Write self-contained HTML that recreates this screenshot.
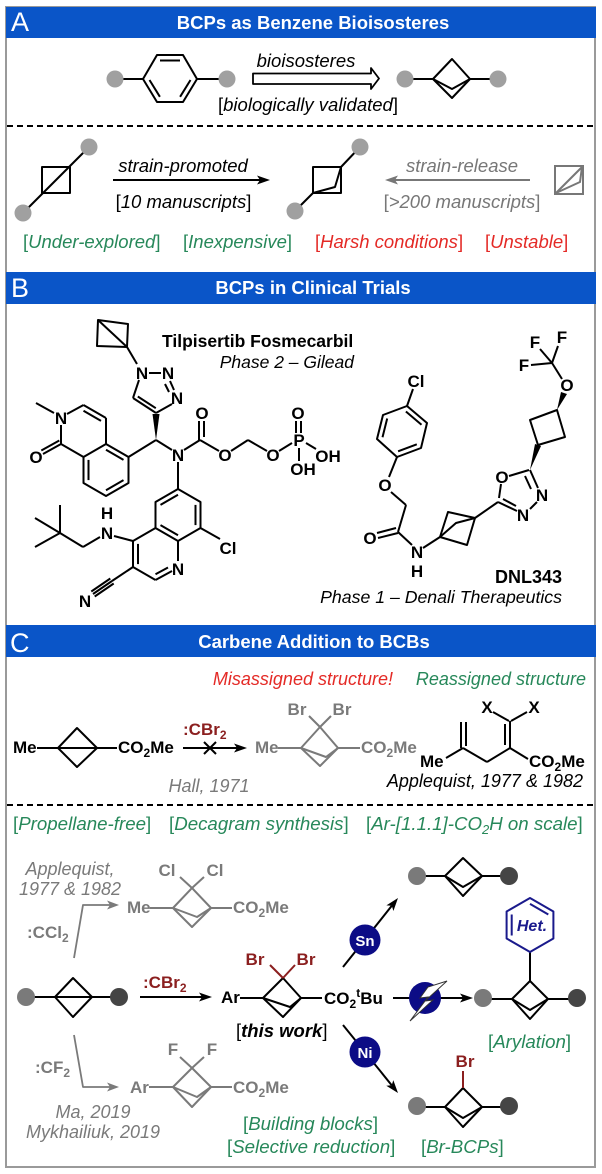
<!DOCTYPE html>
<html><head><meta charset="utf-8"><style>
html,body{margin:0;padding:0;background:#fff;width:602px;height:1174px;overflow:hidden}
svg{display:block}
text{font-family:"Liberation Sans",Arial,sans-serif}
</style></head><body>
<svg width="602" height="1174" viewBox="0 0 602 1174" xmlns="http://www.w3.org/2000/svg">
<rect x="0" y="0" width="602" height="1174" fill="#fff"/>
<!-- frame -->
<rect x="6" y="7" width="589" height="1160" fill="none" stroke="#9a9a9a" stroke-width="2"/>
<!-- headers -->
<rect x="6" y="7" width="590" height="31" fill="#0a55c8"/>
<text x="11" y="31" font-size="27" fill="#fff">A</text>
<text x="313" y="29" font-size="18.5" font-weight="bold" fill="#fff" text-anchor="middle">BCPs as Benzene Bioisosteres</text>
<rect x="6" y="272" width="590" height="32" fill="#0a55c8"/>
<text x="11" y="297" font-size="27" fill="#fff">B</text>
<text x="313" y="294" font-size="18.5" font-weight="bold" fill="#fff" text-anchor="middle">BCPs in Clinical Trials</text>
<rect x="6" y="625" width="590" height="32" fill="#0a55c8"/>
<text x="10" y="652" font-size="27" fill="#fff">C</text>
<text x="314" y="648" font-size="18.5" font-weight="bold" fill="#fff" text-anchor="middle">Carbene Addition to BCBs</text>
<!-- dashed -->
<line x1="7" y1="126" x2="595" y2="126" stroke="#000" stroke-width="2" stroke-dasharray="6,4"/>
<line x1="7" y1="805" x2="595" y2="805" stroke="#000" stroke-width="2" stroke-dasharray="6,4"/>

<!-- ===== Section A ===== -->
<g stroke="#000" stroke-width="2" fill="none" stroke-linejoin="round">
<line x1="115" y1="79" x2="143" y2="79"/>
<polygon points="143,79 157,55 183,55 197,79 183,102 157,102"/>
<line x1="160" y1="60.5" x2="180" y2="60.5"/>
<line x1="190.5" y1="80" x2="180.1" y2="96.8"/>
<line x1="159.9" y1="96.8" x2="149.5" y2="80"/>
<line x1="197" y1="79" x2="227" y2="79"/>
<polygon points="253,73.5 371,73.5 371,68 379,78.5 371,89 371,84 253,84" stroke-width="1.8" fill="#fff"/>
<line x1="405" y1="79" x2="433" y2="79"/>
<polygon points="433,79 452,59 470,79 452,98"/>
<polyline points="433,79 452,89 470,79"/>
<line x1="470" y1="79" x2="498" y2="79"/>
<!-- row 2 -->
<line x1="23" y1="213" x2="89" y2="147"/>
<rect x="42" y="167" width="28" height="26"/>
<line x1="113" y1="180" x2="260" y2="180"/>
<rect x="313" y="167" width="28" height="26"/>
<polyline points="313,193 335,187 341,167"/>
<line x1="341" y1="167" x2="360" y2="147"/>
<line x1="313" y1="193" x2="295" y2="211"/>
</g>
<polygon points="270,180 257,175.5 260,180 257,184.5" fill="#000"/>
<g fill="#a0a0a0">
<circle cx="115" cy="79" r="8.5"/><circle cx="227" cy="79" r="8.5"/>
<circle cx="405" cy="79" r="8.5"/><circle cx="498" cy="79" r="8.5"/>
<circle cx="89" cy="147" r="8.5"/><circle cx="23" cy="213" r="8.5"/>
<circle cx="360" cy="147" r="8.5"/><circle cx="295" cy="211" r="8.5"/>
</g>
<g stroke="#777" stroke-width="2" fill="none">
<line x1="395" y1="180" x2="530" y2="180"/>
<rect x="555" y="166" width="28" height="28"/>
<line x1="556" y1="193" x2="582" y2="167"/>
<polyline points="556,193 580,182 582,167"/>
</g>
<polygon points="385,180 398,175.5 395,180 398,184.5" fill="#777"/>
<g font-size="18.5">
<text x="306" y="67" font-style="italic" text-anchor="middle">bioisosteres</text>
<text x="308" y="111" text-anchor="middle">[<tspan font-style="italic">biologically validated</tspan>]</text>
<text x="183" y="172" font-style="italic" text-anchor="middle">strain-promoted</text>
<text x="183.5" y="208" text-anchor="middle">[<tspan font-style="italic">10 manuscripts</tspan>]</text>
<text x="462" y="172" font-style="italic" text-anchor="middle" fill="#777">strain-release</text>
<text x="462" y="208" text-anchor="middle" fill="#777">[<tspan font-style="italic">&gt;200 manuscripts</tspan>]</text>
<text x="23" y="248" fill="#27885a">[<tspan font-style="italic">Under-explored</tspan>]</text>
<text x="183" y="248" fill="#27885a">[<tspan font-style="italic">Inexpensive</tspan>]</text>
<text x="315" y="248" fill="#e42a26">[<tspan font-style="italic">Harsh conditions</tspan>]</text>
<text x="485" y="248" fill="#e42a26">[<tspan font-style="italic">Unstable</tspan>]</text>
</g>

<!-- ===== Section B: Tilpisertib ===== -->
<g stroke="#000" stroke-width="2" fill="none" stroke-linejoin="round">
<!-- BCP -->
<polygon points="97,346 98,320 128,324 127,347"/>
<line x1="98" y1="320" x2="127" y2="347"/>
<line x1="127" y1="347" x2="137" y2="364"/>
<!-- triazole -->
<line x1="149" y1="373" x2="161" y2="373"/>
<line x1="170" y1="381" x2="174" y2="390"/>
<line x1="165" y1="384" x2="169" y2="392"/>
<line x1="172" y1="404" x2="156" y2="413"/>
<line x1="156" y1="413" x2="133" y2="398"/>
<line x1="155.8" y1="408.2" x2="137.8" y2="396.5"/>
<line x1="133" y1="398" x2="139" y2="380"/>
<!-- stereo C -->
<line x1="156" y1="440" x2="128.5" y2="457"/>
<line x1="156" y1="440" x2="172" y2="450"/>
<line x1="184" y1="450" x2="200" y2="440"/>
<line x1="199" y1="440" x2="199" y2="421"/>
<line x1="204" y1="437" x2="204" y2="421"/>
<line x1="200" y1="440" x2="219" y2="451"/>
<line x1="231" y1="451" x2="248" y2="440"/>
<line x1="248" y1="440" x2="267" y2="451"/>
<line x1="279" y1="451" x2="292" y2="443"/>
<line x1="296" y1="433" x2="296" y2="421"/>
<line x1="301" y1="433" x2="301" y2="421"/>
<line x1="299" y1="448" x2="299" y2="461"/>
<line x1="306" y1="443" x2="316" y2="449"/>
<line x1="178" y1="462" x2="178" y2="489"/>
<!-- benzo -->
<polygon points="106,444 128.5,457 128.5,483 106,496 83.5,483 83.5,457"/>
<line x1="106" y1="449.7" x2="123.5" y2="459.9"/>
<line x1="123.5" y1="480.1" x2="106" y2="490.3"/>
<line x1="88.5" y1="480.1" x2="88.5" y2="459.9"/>
<!-- pyridinone -->
<line x1="83.5" y1="457" x2="61" y2="444"/>
<line x1="61" y1="444" x2="61" y2="425"/>
<line x1="67" y1="414" x2="83.5" y2="405"/>
<line x1="83.5" y1="405" x2="106" y2="418"/>
<line x1="106" y1="418" x2="106" y2="444"/>
<line x1="83.5" y1="410.7" x2="101" y2="420.9"/>
<line x1="54" y1="413" x2="36" y2="403"/>
<line x1="61" y1="444" x2="43" y2="454"/>
<line x1="59.3" y1="440.5" x2="41.3" y2="450.5"/>
<!-- quinoline -->
<polygon points="178,489 200.5,502 200.5,528 178,541 155.5,528 155.5,502"/>
<line x1="178" y1="494.7" x2="160.5" y2="504.9"/>
<line x1="195.5" y1="504.9" x2="195.5" y2="525.1"/>
<line x1="160.5" y1="525.1" x2="178" y2="535.3"/>
<line x1="178" y1="541" x2="178" y2="561"/>
<line x1="172" y1="571" x2="155.5" y2="580"/>
<line x1="155.5" y1="580" x2="133" y2="567"/>
<line x1="133" y1="567" x2="133" y2="541"/>
<line x1="133" y1="541" x2="155.5" y2="528"/>
<line x1="138" y1="543.9" x2="138" y2="564.1"/>
<line x1="155.5" y1="574.3" x2="168" y2="567.5"/>
<line x1="200.5" y1="528" x2="220" y2="539"/>
<line x1="133" y1="541" x2="114" y2="536"/>
<line x1="100" y1="537" x2="83" y2="547"/>
<line x1="83" y1="547" x2="60" y2="533"/>
<line x1="60" y1="533" x2="60" y2="505"/>
<line x1="60" y1="533" x2="35" y2="518"/>
<line x1="60" y1="533" x2="35" y2="547"/>
<line x1="133" y1="567" x2="112" y2="581"/>
<line x1="112" y1="581" x2="93" y2="594"/>
<line x1="113.7" y1="583.5" x2="94.7" y2="596.5"/>
<line x1="110.3" y1="578.5" x2="91.3" y2="591.5"/>
</g>
<polygon points="156,440 152.5,414 159.5,414" fill="#000"/>
<g font-size="17" font-weight="bold" text-anchor="middle">
<text x="142" y="379">N</text><text x="168" y="379">N</text><text x="177" y="404">N</text>
<text x="61" y="424">N</text><text x="36" y="463">O</text>
<text x="178" y="461">N</text><text x="202" y="419">O</text><text x="225" y="461">O</text>
<text x="273" y="461">O</text><text x="299" y="446">P</text><text x="298" y="419">O</text>
<text x="303" y="475">OH</text><text x="328" y="462">OH</text>
<text x="228" y="554">Cl</text><text x="178" y="575">N</text>
<text x="107" y="539">N</text><text x="107" y="519">H</text>
<text x="85" y="607">N</text>
</g>
<text x="162" y="347" font-size="17.5" font-weight="bold">Tilpisertib Fosmecarbil</text>
<text x="354" y="368" font-size="17.5" font-style="italic" text-anchor="end">Phase 2 – Gilead</text>

<!-- DNL343 -->
<g stroke="#000" stroke-width="2" fill="none" stroke-linejoin="round">
<polygon points="407,406 427,423 421,448 397,457 377,439 383,415"/>
<line x1="405.9" y1="411.5" x2="421.5" y2="424.8"/>
<line x1="416.8" y1="444.3" x2="398.1" y2="451.3"/>
<line x1="382.5" y1="437.2" x2="387.2" y2="418.5"/>
<line x1="407" y1="406" x2="413" y2="389"/>
<line x1="397" y1="457" x2="389" y2="477"/>
<line x1="391" y1="492" x2="406" y2="505"/>
<line x1="406" y1="505" x2="398" y2="532"/>
<line x1="377" y1="533" x2="396" y2="528"/>
<line x1="378" y1="538" x2="398" y2="533"/>
<line x1="398" y1="532" x2="412" y2="545"/>
<line x1="423" y1="548" x2="440" y2="537"/>
<polygon points="440,537 448,512 475,518 467,545"/>
<polyline points="440,537 456,523 475,518"/>
<line x1="475" y1="518" x2="498" y2="502"/>
<line x1="499" y1="498" x2="501" y2="484"/>
<line x1="509" y1="476" x2="529" y2="470"/>
<line x1="530" y1="470" x2="538" y2="488"/>
<line x1="525" y1="476" x2="531" y2="489"/>
<line x1="537" y1="502" x2="530" y2="509"/>
<line x1="517" y1="511" x2="498" y2="502"/>
<line x1="516" y1="506" x2="503" y2="499"/>
<polygon points="538,445 530,420 557,410 565,437"/>
<line x1="562" y1="379" x2="552" y2="363"/>
<line x1="552" y1="363" x2="540" y2="349"/>
<line x1="552" y1="363" x2="558" y2="346"/>
<line x1="552" y1="363" x2="531" y2="365"/>
</g>
<polygon points="530,470 535,444 541,446" fill="#000"/>
<polygon points="557,410 561,392 567,394" fill="#000"/>
<g font-size="17" font-weight="bold" text-anchor="middle">
<text x="416" y="387">Cl</text><text x="385" y="491">O</text><text x="370" y="544">O</text>
<text x="417" y="558">N</text><text x="417" y="577">H</text>
<text x="502" y="483">O</text><text x="542" y="501">N</text><text x="523" y="521">N</text>
<text x="567" y="391">O</text>
<text x="535" y="348">F</text><text x="562" y="343">F</text><text x="524" y="371">F</text>
</g>
<text x="562" y="583" font-size="18" font-weight="bold" text-anchor="end">DNL343</text>
<text x="562" y="603" font-size="17.7" font-style="italic" text-anchor="end">Phase 1 – Denali Therapeutics</text>

<!-- ===== Section C row 1 ===== -->
<text x="393" y="685" font-size="18" font-style="italic" fill="#e42a26" text-anchor="end">Misassigned structure!</text>
<text x="586" y="685" font-size="18" font-style="italic" fill="#27885a" text-anchor="end">Reassigned structure</text>
<g stroke="#000" stroke-width="2" fill="none" stroke-linejoin="round">
<line x1="37" y1="748" x2="58" y2="748"/>
<polygon points="58,748 77,728 97,748 77,767"/>
<line x1="58" y1="748" x2="97" y2="748"/>
<line x1="97" y1="748" x2="117" y2="748"/>
<line x1="183" y1="748" x2="238" y2="748"/>
<line x1="204" y1="742" x2="216" y2="754"/>
<line x1="204" y1="754" x2="216" y2="742"/>
<!-- reassigned -->
<line x1="493" y1="712" x2="509" y2="721"/>
<line x1="527" y1="712" x2="511" y2="721"/>
<line x1="510" y1="721" x2="510" y2="748"/>
<line x1="505" y1="724" x2="505" y2="745"/>
<line x1="510" y1="748" x2="528" y2="759"/>
<line x1="510" y1="748" x2="487" y2="762"/>
<line x1="487" y1="762" x2="463" y2="748"/>
<line x1="461" y1="748" x2="461" y2="722"/>
<line x1="466" y1="746" x2="466" y2="722"/>
<line x1="463" y1="748" x2="446" y2="758"/>
</g>
<polygon points="247,748 234,743.5 237,748 234,752.5" fill="#000"/>
<g stroke="#7a7a7a" stroke-width="2" fill="none" stroke-linejoin="round">
<line x1="278" y1="748" x2="301" y2="748"/>
<polyline points="301,748 320,727 338,748"/>
<polyline points="301,748 320,766 338,748"/>
<polyline points="301,748 326,757 338,748"/>
<line x1="320" y1="727" x2="309" y2="716"/>
<line x1="320" y1="727" x2="331" y2="716"/>
<line x1="338" y1="748" x2="360" y2="748"/>
</g>
<g font-size="17" font-weight="bold">
<text x="13" y="753">Me</text>
<text x="118" y="753">CO<tspan font-size="12" dy="4">2</tspan><tspan dy="-4">Me</tspan></text>
<text x="183" y="735" fill="#8b1f1f">:CBr<tspan font-size="12" dy="4">2</tspan></text>
<text x="255" y="753" fill="#7a7a7a">Me</text>
<text x="361" y="753" fill="#7a7a7a">CO<tspan font-size="12" dy="4">2</tspan><tspan dy="-4">Me</tspan></text>
<text x="297" y="715" fill="#7a7a7a" text-anchor="middle">Br</text>
<text x="342" y="715" fill="#7a7a7a" text-anchor="middle">Br</text>
<text x="487" y="713" text-anchor="middle">X</text>
<text x="534" y="713" text-anchor="middle">X</text>
<text x="420" y="767">Me</text>
<text x="529" y="767">CO<tspan font-size="12" dy="4">2</tspan><tspan dy="-4">Me</tspan></text>
</g>
<text x="209" y="792" font-size="18" font-style="italic" fill="#7a7a7a" text-anchor="middle">Hall, 1971</text>
<text x="583" y="787" font-size="18" font-style="italic" text-anchor="end">Applequist, 1977 &amp; 1982</text>

<!-- ===== Section C lower ===== -->
<g font-size="18.7" fill="#27885a">
<text x="13" y="830">[<tspan font-style="italic">Propellane-free</tspan>]</text>
<text x="169" y="830">[<tspan font-style="italic">Decagram synthesis</tspan>]</text>
<text x="366" y="830">[<tspan font-style="italic">Ar-[1.1.1]-CO<tspan font-size="13" dy="4">2</tspan><tspan dy="-4">H on scale</tspan></tspan>]</text>
<text x="243" y="1130">[<tspan font-style="italic">Building blocks</tspan>]</text>
<text x="227" y="1153">[<tspan font-style="italic">Selective reduction</tspan>]</text>
<text x="488" y="1048">[<tspan font-style="italic">Arylation</tspan>]</text>
<text x="421" y="1153">[<tspan font-style="italic">Br-BCPs</tspan>]</text>
</g>
<g font-size="18" font-style="italic" fill="#7a7a7a" text-anchor="middle">
<text x="70" y="875">Applequist,</text>
<text x="70" y="895">1977 &amp; 1982</text>
<text x="93" y="1118">Ma, 2019</text>
<text x="93" y="1138">Mykhailiuk, 2019</text>
</g>
<!-- gray arrows & products -->
<g stroke="#7a7a7a" stroke-width="1.8" fill="none" stroke-linejoin="round">
<polyline points="74,958 83,905 110,905"/>
<polyline points="74,1035 83,1087 110,1087"/>
</g>
<polygon points="119,905 107,900.5 110,905 107,909.5" fill="#7a7a7a"/>
<polygon points="119,1087 107,1082.5 110,1087 107,1091.5" fill="#7a7a7a"/>
<g stroke="#7a7a7a" stroke-width="2" fill="none" stroke-linejoin="round">
<line x1="150" y1="908" x2="173" y2="908"/>
<polyline points="173,908 192,888 211,908"/>
<polyline points="173,908 192,927 211,908"/>
<polyline points="173,908 197,917 211,908"/>
<line x1="192" y1="888" x2="180" y2="877"/>
<line x1="192" y1="888" x2="204" y2="877"/>
<line x1="211" y1="908" x2="232" y2="908"/>
<line x1="149" y1="1087" x2="173" y2="1087"/>
<polyline points="173,1087 192,1068 211,1087"/>
<polyline points="173,1087 192,1107 211,1087"/>
<polyline points="173,1087 197,1097 211,1087"/>
<line x1="192" y1="1068" x2="180" y2="1057"/>
<line x1="192" y1="1068" x2="204" y2="1057"/>
<line x1="211" y1="1087" x2="232" y2="1087"/>
</g>
<g font-size="17" font-weight="bold" fill="#7a7a7a">
<text x="27" y="938">:CCl<tspan font-size="12" dy="4">2</tspan></text>
<text x="35" y="1073">:CF<tspan font-size="12" dy="4">2</tspan></text>
<text x="127" y="913">Me</text>
<text x="233" y="913">CO<tspan font-size="12" dy="4">2</tspan><tspan dy="-4">Me</tspan></text>
<text x="167" y="876" text-anchor="middle">Cl</text>
<text x="215" y="876" text-anchor="middle">Cl</text>
<text x="130" y="1093">Ar</text>
<text x="233" y="1093">CO<tspan font-size="12" dy="4">2</tspan><tspan dy="-4">Me</tspan></text>
<text x="173" y="1055" text-anchor="middle">F</text>
<text x="212" y="1055" text-anchor="middle">F</text>
</g>
<!-- main BCB -->
<g stroke="#000" stroke-width="2" fill="none" stroke-linejoin="round">
<line x1="26" y1="997" x2="55" y2="997"/>
<polygon points="55,997 73,978 92,997 73,1017"/>
<line x1="55" y1="997" x2="92" y2="997"/>
<line x1="92" y1="997" x2="119" y2="997"/>
<line x1="140" y1="997" x2="203" y2="997"/>
<line x1="240" y1="998" x2="263" y2="998"/>
<polyline points="263,998 283,978 301,998"/>
<polyline points="263,998 283,1017 301,998"/>
<polyline points="263,998 290,1007 301,998"/>
<line x1="301" y1="998" x2="322" y2="998"/>
<!-- Sn, bolt, Ni lines -->
<line x1="343" y1="967" x2="391.8" y2="905.8"/>
<line x1="393" y1="998" x2="464" y2="998"/>
<line x1="343" y1="1025" x2="391.7" y2="1085.2"/>
<!-- products -->
<line x1="417" y1="876" x2="445" y2="876"/>
<polygon points="445,876 463,858 482,876 463,896"/>
<polyline points="445,876 463,887 482,876"/>
<line x1="482" y1="876" x2="509" y2="876"/>
<line x1="483" y1="999" x2="512" y2="999"/>
<polygon points="512,999 530,981 548,999 530,1019"/>
<polyline points="512,999 530,1010 548,999"/>
<line x1="548" y1="999" x2="577" y2="999"/>
<line x1="530" y1="981" x2="530" y2="952"/>
<line x1="417" y1="1107" x2="445" y2="1107"/>
<polygon points="445,1107 463,1088 482,1107 463,1127"/>
<polyline points="445,1107 463,1118 482,1107"/>
<line x1="482" y1="1107" x2="509" y2="1107"/>
</g>
<polygon points="212,997 199,992.5 202,997 199,1001.5" fill="#000"/>
<polygon points="398,898 393.4,911 391.8,905.8 386.4,905.4" fill="#000"/>
<polygon points="473,998 460,993.5 463,998 460,1002.5" fill="#000"/>
<polygon points="398,1093 393.3,1080.1 391.7,1085.2 386.3,1085.7" fill="#000"/>
<g stroke="#8b1f1f" stroke-width="2">
<line x1="283" y1="978" x2="270" y2="965"/>
<line x1="283" y1="978" x2="295" y2="965"/>
<line x1="463" y1="1088" x2="463" y2="1071"/>
</g>
<!-- het ring -->
<g stroke="#1a1a8c" stroke-width="2" fill="none" stroke-linejoin="round">
<polygon points="530,898 553.4,911.5 553.4,938.5 530,952 506.6,938.5 506.6,911.5"/>
<line x1="511.7" y1="914.5" x2="511.7" y2="935.5"/>
<line x1="530" y1="903.9" x2="548.3" y2="914.5"/>
</g>
<text x="532" y="931" font-size="16" font-weight="bold" font-style="italic" fill="#1a1a8c" text-anchor="middle">Het.</text>
<!-- dots C -->
<g fill="#7a7a7a">
<circle cx="26" cy="997" r="9"/><circle cx="417" cy="876" r="9"/>
<circle cx="483" cy="998" r="9"/><circle cx="417" cy="1106" r="9"/>
</g>
<g fill="#454545">
<circle cx="119" cy="997" r="9"/><circle cx="509" cy="876" r="9"/>
<circle cx="577" cy="998" r="9"/><circle cx="509" cy="1106" r="9"/>
</g>
<!-- circles -->
<circle cx="365" cy="940" r="15.5" fill="#0c0c86"/>
<text x="365" y="946" font-size="15" font-weight="bold" fill="#fff" text-anchor="middle">Sn</text>
<circle cx="425" cy="998" r="16" fill="#0c0c86"/>
<polygon points="447,981 428,987 420,998 428,997 410,1021 433,1000 425,1001" fill="#fff" stroke="#333" stroke-width="1"/>
<circle cx="365" cy="1052" r="15.5" fill="#0c0c86"/>
<text x="365" y="1058" font-size="15" font-weight="bold" fill="#fff" text-anchor="middle">Ni</text>
<!-- labels main -->
<g font-size="17" font-weight="bold">
<text x="143" y="988" fill="#8b1f1f">:CBr<tspan font-size="12" dy="4">2</tspan></text>
<text x="221" y="1003">Ar</text>
<text x="324" y="1004">CO<tspan font-size="12" dy="4">2</tspan><tspan font-size="12" dy="-11">t</tspan><tspan dy="7">Bu</tspan></text>
<text x="255" y="965" fill="#8b1f1f" text-anchor="middle">Br</text>
<text x="306" y="965" fill="#8b1f1f" text-anchor="middle">Br</text>
<text x="465" y="1067" fill="#8b1f1f" text-anchor="middle">Br</text>
</g>
<text x="236" y="1037" font-size="18.5">[<tspan font-weight="bold" font-style="italic">this work</tspan>]</text>
</svg>
</body></html>
